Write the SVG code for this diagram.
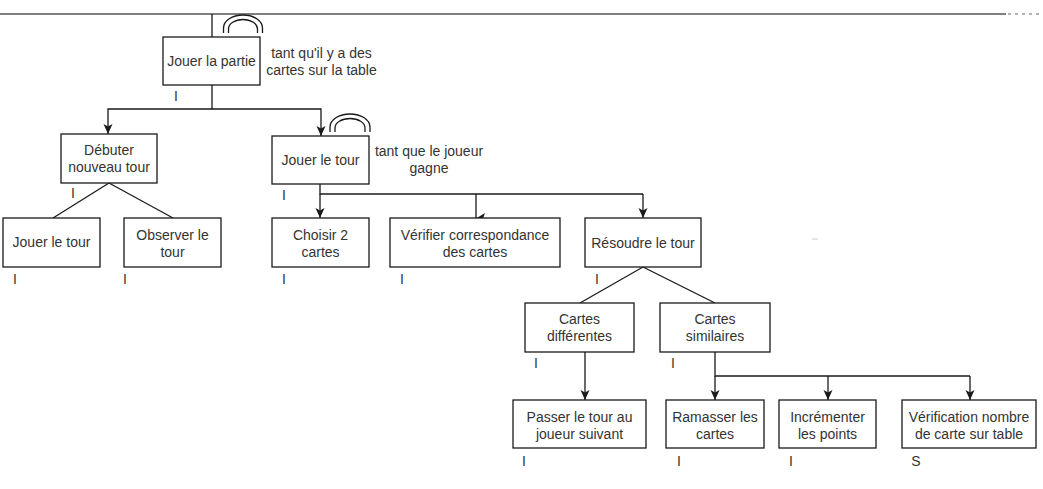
<svg xmlns="http://www.w3.org/2000/svg" width="1043" height="489" viewBox="0 0 1043 489">
<style>
.box{fill:#fff;stroke:#1a1a1a;stroke-width:1.3}
.t{font-family:"Liberation Sans",Arial,sans-serif;font-size:14px;fill:#333;text-anchor:middle}
.c{fill:none;stroke:#1a1a1a;stroke-width:1.3}
.loop{fill:none;stroke:#1a1a1a;stroke-width:1.3}
</style>
<defs>
<marker id="arr" viewBox="0 0 10 10" refX="10" refY="5" markerWidth="10" markerHeight="10" markerUnits="userSpaceOnUse" orient="auto">
<path d="M0,0.5 L10,5 L0,9.5 L2.5,5 Z" fill="#1a1a1a"/>
</marker>
</defs>
<rect width="1043" height="489" fill="#fff"/>
<g id="connectors">
<path d="M0,14 H1006" fill="none" stroke="#555" stroke-width="1.5"/>
<path d="M1008,14 H1043" fill="none" stroke="#999" stroke-width="1.3" stroke-dasharray="3,4"/>
<path class="c" d="M212,14 V37"/>
<path class="c" d="M212,85 V109 H108 V134" marker-end="url(#arr)"/>
<path class="c" d="M212,109 H321 V136" marker-end="url(#arr)"/>
<path class="c" d="M109,183 L53,218"/>
<path class="c" d="M109,183 L173,218"/>
<path class="c" d="M320,184 V194 H643"/>
<path class="c" d="M320,194 V218" marker-end="url(#arr)"/>
<path class="c" d="M476,194 V218"/>
<path d="M476,218.5 L485,213 L483,218.5 Z" fill="#1a1a1a"/>
<path class="c" d="M643,194 V218" marker-end="url(#arr)"/>
<path class="c" d="M643,267 L580,303"/>
<path class="c" d="M643,267 L715,303"/>
<path class="c" d="M585,352 V400" marker-end="url(#arr)"/>
<path class="c" d="M715,352 V376 H970"/>
<path class="c" d="M715,376 V400" marker-end="url(#arr)"/>
<path class="c" d="M828,376 V400" marker-end="url(#arr)"/>
<path class="c" d="M970,376 V400" marker-end="url(#arr)"/>
<path d="M812,239 H818" stroke="#ccc" stroke-width="1"/>
</g>
<g id="jouer-partie">
<rect class="box" x="163" y="37" width="97" height="48"/>
<text class="t" x="211.5" y="66">Jouer la partie</text>
<path class="loop" d="M223.5,33 V28 A19.5,13 0 0 1 262.5,28 V33"/>
<path class="loop" d="M228.5,33 V29 A14.5,9.5 0 0 1 257.5,29 V33"/>
<text class="t" x="321.5" y="58">tant qu'il y a des</text>
<text class="t" x="321.5" y="75">cartes sur la table</text>
<text class="t" x="176" y="101">I</text>
</g>
<g id="debuter">
<rect class="box" x="61" y="134" width="96" height="49"/>
<text class="t" x="109" y="155">Débuter</text>
<text class="t" x="109" y="172">nouveau tour</text>
<text class="t" x="73" y="198">I</text>
</g>
<g id="jouer-tour">
<rect class="box" x="272" y="136" width="97" height="48"/>
<text class="t" x="320.5" y="165">Jouer le tour</text>
<path class="loop" d="M330,132 V127 A20,13 0 0 1 370,127 V132"/>
<path class="loop" d="M335,132 V128 A15,9.5 0 0 1 365,128 V132"/>
<text class="t" x="429" y="156">tant que le joueur</text>
<text class="t" x="429" y="173">gagne</text>
<text class="t" x="284" y="200">I</text>
</g>
<g id="jouer-tour-2">
<rect class="box" x="3" y="218" width="97" height="49"/>
<text class="t" x="51.5" y="247">Jouer le tour</text>
<text class="t" x="15" y="284">I</text>
</g>
<g id="observer">
<rect class="box" x="124" y="218" width="97" height="49"/>
<text class="t" x="172.5" y="240">Observer le</text>
<text class="t" x="172.5" y="257">tour</text>
<text class="t" x="125" y="284">I</text>
</g>
<g id="choisir">
<rect class="box" x="272" y="218" width="97" height="49"/>
<text class="t" x="320.5" y="240">Choisir 2</text>
<text class="t" x="320.5" y="257">cartes</text>
<text class="t" x="284" y="284">I</text>
</g>
<g id="verifier">
<rect class="box" x="390" y="218" width="170" height="49"/>
<text class="t" x="475" y="240">Vérifier correspondance</text>
<text class="t" x="475" y="257">des cartes</text>
<text class="t" x="402" y="284">I</text>
</g>
<g id="resoudre">
<rect class="box" x="585" y="218" width="116" height="49"/>
<text class="t" x="643" y="248">Résoudre le tour</text>
<text class="t" x="597" y="284">I</text>
</g>
<g id="cartes-differentes">
<rect class="box" x="525" y="303" width="109" height="49"/>
<text class="t" x="579.5" y="324">Cartes</text>
<text class="t" x="579.5" y="341">différentes</text>
<text class="t" x="536" y="368">I</text>
</g>
<g id="cartes-similaires">
<rect class="box" x="660" y="303" width="110" height="49"/>
<text class="t" x="715" y="324">Cartes</text>
<text class="t" x="715" y="341">similaires</text>
<text class="t" x="673" y="368">I</text>
</g>
<g id="passer">
<rect class="box" x="513" y="400" width="133" height="48"/>
<text class="t" x="579.5" y="422">Passer le tour au</text>
<text class="t" x="579.5" y="439">joueur suivant</text>
<text class="t" x="524" y="466">I</text>
</g>
<g id="ramasser">
<rect class="box" x="666" y="400" width="98" height="48"/>
<text class="t" x="715" y="422">Ramasser les</text>
<text class="t" x="715" y="439">cartes</text>
<text class="t" x="679" y="466">I</text>
</g>
<g id="incrementer">
<rect class="box" x="779" y="400" width="97" height="48"/>
<text class="t" x="827.5" y="422">Incrémenter</text>
<text class="t" x="827.5" y="439">les points</text>
<text class="t" x="791" y="466">I</text>
</g>
<g id="verification">
<rect class="box" x="902" y="400" width="134" height="48"/>
<text class="t" x="969" y="422">Vérification nombre</text>
<text class="t" x="969" y="439">de carte sur table</text>
<text class="t" x="916" y="466">S</text>
</g>
</svg>
